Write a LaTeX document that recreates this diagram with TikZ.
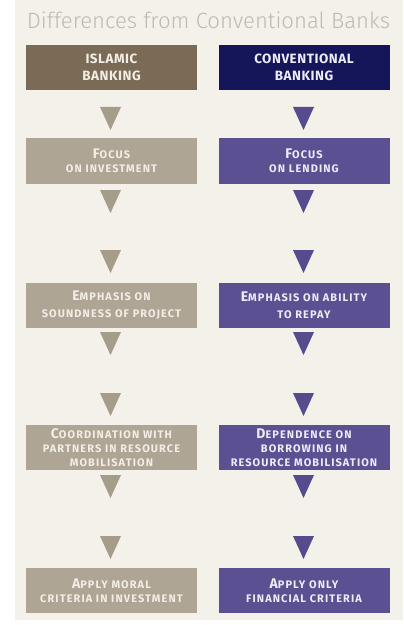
\documentclass[tikz,border=0pt]{standalone}
\usepackage{fontspec}
\setmainfont{Fira Sans}
\IfFontExistsTF{Fira Sans Light}{\newfontfamily\titlefont{Fira Sans Light}}{\newfontfamily\titlefont{Fira Sans}}
\newfontfamily\boxfont[LetterSpace=10]{Fira Sans}
\newfontfamily\hdrfont[LetterSpace=4]{Fira Sans}
\definecolor{bgc}{HTML}{F4F0EA}
\definecolor{hdrLc}{HTML}{7B6B56}
\definecolor{hdrRc}{HTML}{15155A}
\definecolor{boxLc}{HTML}{AEA594}
\definecolor{boxRc}{HTML}{5B5192}
\definecolor{triLc}{HTML}{A59C8A}
\definecolor{triRc}{HTML}{554B8D}
\definecolor{txtL}{HTML}{F2EEE6}
\definecolor{txtR}{HTML}{EEECF6}
\definecolor{titlec}{HTML}{BDB9B3}
\newcommand\BigInit[1]{{\fontsize{14}{14}\selectfont #1}}
\begin{document}
\begin{tikzpicture}[x=1bp,y=-1bp,
  basebox/.style={minimum width=171bp, minimum height=45bp, inner sep=0pt, align=center,
    font=\boxfont\bfseries\fontsize{11}{14.5}\selectfont},
  hdrL/.style={basebox, fill=hdrLc, text=txtL, font=\hdrfont\bfseries\fontsize{13.5}{17}\selectfont},
  hdrR/.style={basebox, fill=hdrRc, text=txtR, font=\hdrfont\bfseries\fontsize{13.5}{17}\selectfont},
  boxL/.style={basebox, fill=boxLc, text=txtL},
  boxR/.style={basebox, fill=boxRc, text=txtR},
  titlestyle/.style={text=titlec, inner sep=0pt, font=\titlefont\fontsize{22.2}{22.2}\selectfont},
  tridown/.pic={\fill (-10.5,0) -- (10.5,0) -- (0,23) -- cycle;}
]
\useasboundingbox (0,0) rectangle (403,625);
\fill[white] (0,0) rectangle (403,625);
\fill[bgc] (15,0) rectangle (403,620);
\node[titlestyle] (title) at (208.5,20) {Differences from Conventional Banks};

\node[hdrL] (h1) at (111.5,67.5) {ISLAMIC\\BANKING};
\node[hdrR] (h2) at (304,67.5) {CONVENTIONAL\\BANKING};

\node[boxL] (l2) at (111.5,161) {\BigInit{F}OCUS\\ON INVESTMENT};
\node[boxR] (r2) at (304,161) {\BigInit{F}OCUS\\ON LENDING};

\node[boxL, font=\boxfont\bfseries\fontsize{11}{17}\selectfont] (l3) at (111.5,305) {\BigInit{E}MPHASIS ON\\SOUNDNESS OF PROJECT};
\node[boxR, font=\boxfont\bfseries\fontsize{11}{17}\selectfont] (r3) at (304,305) {\BigInit{E}MPHASIS ON ABILITY\\TO REPAY};

\node[boxL, font=\boxfont\bfseries\fontsize{11}{14}\selectfont] (l4) at (111.5,447.5) {\BigInit{C}OORDINATION WITH\\PARTNERS IN RESOURCE\\MOBILISATION};
\node[boxR, font=\boxfont\bfseries\fontsize{11}{14}\selectfont] (r4) at (304,447.5) {\BigInit{D}EPENDENCE ON\\BORROWING IN\\RESOURCE MOBILISATION};

\node[boxL] (l5) at (111.5,590.5) {\BigInit{A}PPLY MORAL\\CRITERIA IN INVESTMENT};
\node[boxR] (r5) at (304,590.5) {\BigInit{A}PPLY ONLY\\FINANCIAL CRITERIA};

\foreach \t in {107,190,250,332,393,475,536}{
  \pic[fill=triLc] at (110.5,\t) {tridown};
  \pic[fill=triRc] at (303.5,\t) {tridown};
}
\end{tikzpicture}
\end{document}
